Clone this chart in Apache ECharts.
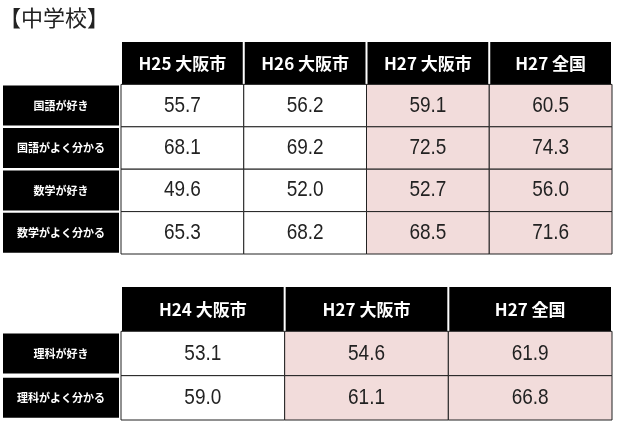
<!DOCTYPE html>
<html><head><meta charset="utf-8">
<script src="https://cdn.jsdelivr.net/npm/echarts@6/dist/echarts.min.js"></script>
<style>html,body{margin:0;background:#fff}#c{width:640px;height:439px}</style></head>
<body><div id="c"></div>
<script>
const title = '【中学校】';
const cols1 = ['H25 大阪市','H26 大阪市','H27 大阪市','H27 全国'];
const rows1 = ['国語が好き','国語がよく分かる','数学が好き','数学がよく分かる'];
const h25 = [55.7,68.1,49.6,65.3];
const h26 = [56.2,69.2,52.0,68.2];
const h27city1 = [59.1,72.5,52.7,68.5];
const h27nat1 = [60.5,74.3,56.0,71.6];
const cols2 = ['H24 大阪市','H27 大阪市','H27 全国'];
const rows2 = ['理科が好き','理科がよく分かる'];
const h24 = [53.1,59.0];
const h27city2 = [54.6,61.1];
const h27nat2 = [61.9,66.8];

const PINK = '#f2dcdb';
function build(cols, rows, series, pinkFrom){
  const d = [];
  cols.forEach((c,i)=>d.push({value:[i,0,1,0],txt:c}));
  series.forEach((arr,i)=>arr.forEach((v,j)=>d.push({value:[i,j+1,0,i>=pinkFrom?1:0],txt:v.toFixed(1)})));
  return d;
}
function mkRender(data){
 return function(params, api){
  const x=api.value(0), y=api.value(1), hdr=api.value(2), pink=api.value(3);
  const p=api.coord([x,y]); const s=api.size([1,1]);
  const r={x:p[0]-s[0]/2,y:p[1]-s[1]/2,width:s[0],height:s[1]};
  const txt=data[params.dataIndex].txt;
  if(hdr){
    return {type:'group',children:[
      {type:'rect',shape:{x:r.x+1,y:r.y,width:r.width-2,height:r.height},style:{fill:'#000'}},
      {type:'text',style:{text:txt,x:p[0],y:p[1],align:'center',verticalAlign:'middle',fill:'#fff',font:'bold 17px "Liberation Sans Narrow","Noto Sans CJK JP",sans-serif'}}]};
  }
  return {type:'group',children:[
    {type:'rect',shape:r,style:{fill:pink?PINK:'#fff',stroke:'#222',lineWidth:1}},
    {type:'text',scaleY:1.15,originX:p[0],originY:p[1],style:{text:txt,x:p[0],y:p[1],align:'center',verticalAlign:'middle',fill:'#222',font:'19px "Liberation Sans Narrow","Liberation Sans",sans-serif'}}]};
 };
}
function yAx(gi, rows){
  return {gridIndex:gi,type:'category',inverse:true,data:[''].concat(rows),
    axisLine:{show:false},axisTick:{show:false},splitLine:{show:false},
    axisLabel:{margin:2,formatter:v=>v?'{b|'+v+'}':'',rich:{b:{backgroundColor:'#000',color:'#fff',width:116,height:40,align:'center',
      fontWeight:'bold',fontSize:11,fontFamily:'"Noto Sans CJK JP",sans-serif'}}}};
}
function xAx(gi,cols){return {gridIndex:gi,type:'category',data:cols.map((c,i)=>i),show:false};}
const d1=build(cols1,rows1,[h25,h26,h27city1,h27nat1],2);
const d2=build(cols2,rows2,[h24,h27city2,h27nat2],1);
const chart=echarts.init(document.getElementById('c'));
chart.setOption({
  animation:false,
  title:{text:title,left:-6,top:2,textStyle:{fontSize:22,fontWeight:'normal',color:'#222',fontFamily:'"Noto Sans CJK JP",sans-serif'}},
  grid:[{left:118,top:42,width:494,height:212},{left:118,top:287,width:494,height:133}],
  xAxis:[xAx(0,cols1),xAx(1,cols2)],
  yAxis:[yAx(0,rows1),yAx(1,rows2)],
  series:[
    {type:'custom',xAxisIndex:0,yAxisIndex:0,renderItem:mkRender(d1),data:d1},
    {type:'custom',xAxisIndex:1,yAxisIndex:1,renderItem:mkRender(d2),data:d2}
  ]
});
</script></body></html>
